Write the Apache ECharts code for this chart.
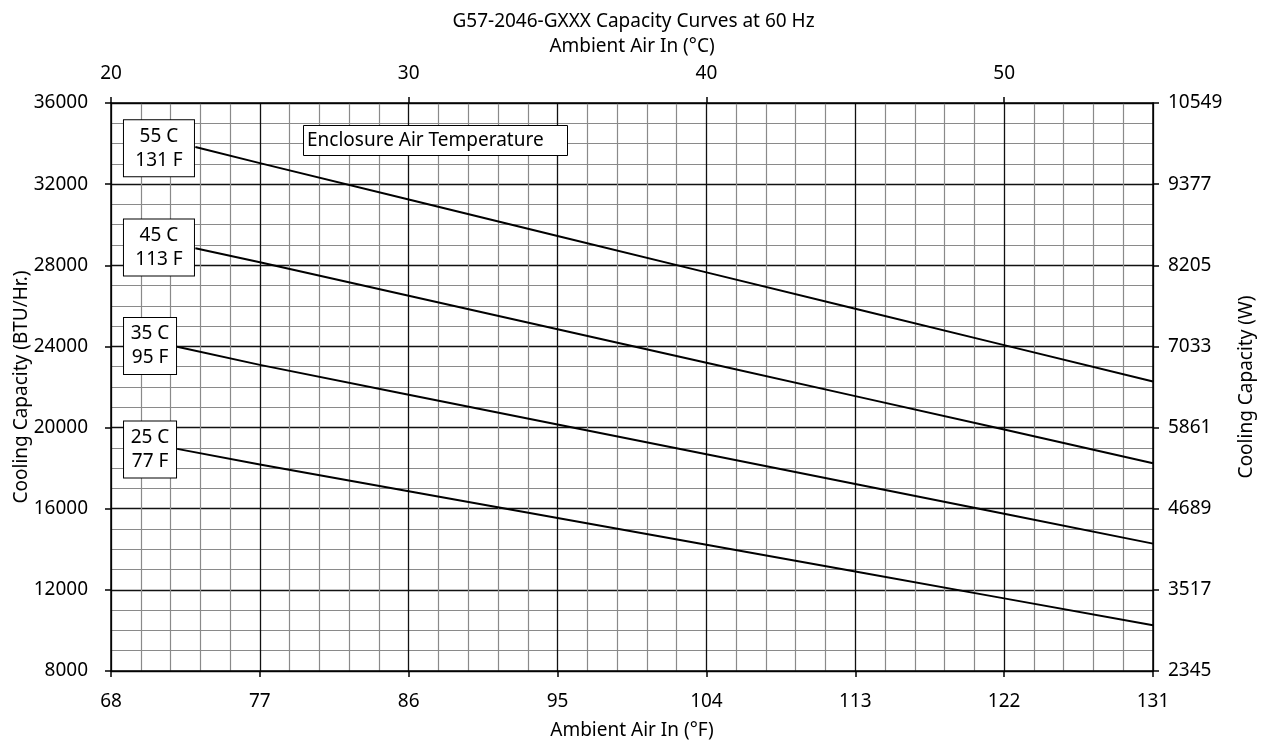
<!DOCTYPE html>
<html>
<head>
<meta charset="utf-8">
<script src="https://cdn.jsdelivr.net/npm/echarts@6/dist/echarts.min.js"></script>
<style>
html,body{margin:0;padding:0;background:#fff;}
#chart{width:1267px;height:740px;}
</style>
</head>
<body>
<div id="chart"></div>
<script>
// ---- data ----
const tempF = [77, 86, 95, 104, 113, 122, 131];
const cap55 = [33035, 31240, 29445, 27650, 25860, 24065, 22270];
const cap45 = [28150, 26500, 24850, 23200, 21550, 19900, 18240];
const cap35 = [23090, 21620, 20150, 18680, 17220, 15750, 14280];
const cap25 = [18180, 16860, 15540, 14220, 12900, 11580, 10250];
// where each curve emerges from its label box
const startF = [73.1, 73.1, 72.0, 72.0];
const startCap = [33830, 28840, 23980, 18950];
const curveNames = ['55 C / 131 F', '45 C / 113 F', '35 C / 95 F', '25 C / 77 F'];
const curveLabels = ['55 C\n131 F', '45 C\n113 F', '35 C\n95 F', '25 C\n77 F'];
const labelAnchorF = [70.9, 70.9, 70.36, 70.36];
const labelAnchorY = [33764, 28872, 24020, 18921];
const celsiusTicks = [20, 30, 40, 50];
const wattLabels = ['2345', '3517', '4689', '5861', '7033', '8205', '9377', '10549'];

const F0 = 68;
const FONT = 'Noto Sans';
const FS = 19;
const curves = [cap55, cap45, cap35, cap25];
const boxW = [72, 72, 54, 54];

const series = curves.map((vals, i) => ({
  name: curveNames[i],
  type: 'line',
  xAxisIndex: 0,
  yAxisIndex: 0,
  data: [[startF[i] - F0, startCap[i]]].concat(tempF.map((f, k) => [f - F0, vals[k]])),
  showSymbol: false,
  symbol: 'none',
  lineStyle: { color: '#000', width: 2 },
  silent: true,
  z: 3,
  markPoint: {
    symbol: 'rect',
    symbolSize: 0,
    silent: true,
    data: [{ coord: [labelAnchorF[i] - F0, labelAnchorY[i]] }],
    label: {
      show: true,
      position: 'inside',
      formatter: curveLabels[i],
      color: '#000',
      fontFamily: FONT,
      fontSize: FS,
      lineHeight: 24,
      width: boxW[i] - 2,
      align: 'center',
      verticalAlign: 'middle',
      padding: [4, 0, 4, 0],
      backgroundColor: '#fff',
      borderColor: '#000',
      borderWidth: 1
    }
  }
}));

const chart = echarts.init(document.getElementById('chart'), null, { renderer: 'canvas' });
chart.setOption({
  animation: false,
  backgroundColor: '#fff',
  textStyle: { fontFamily: FONT, color: '#000' },
  title: {
    text: 'G57-2046-GXXX Capacity Curves at 60 Hz',
    left: 'center',
    top: 7,
    textStyle: { fontFamily: FONT, fontSize: FS, fontWeight: 'normal', color: '#000' }
  },
  grid: { left: 111, right: 114, top: 103, bottom: 69, containLabel: false, outerBoundsMode: 'none' },
  xAxis: [
    {
      type: 'value',
      position: 'bottom',
      min: 0, max: 63, interval: 9,
      name: 'Ambient Air In (°F)',
      nameLocation: 'middle',
      nameGap: 50,
      nameMoveOverlap: false,
      nameTextStyle: { fontFamily: FONT, fontSize: FS, color: '#000' },
      axisLine: { show: true, onZero: false, lineStyle: { color: '#000', width: 1.5 } },
      axisTick: { show: true, inside: false, length: 6, lineStyle: { color: '#000', width: 1.5 } },
      axisLabel: { margin: 21, fontFamily: FONT, fontSize: FS, color: '#000', formatter: v => String(v + F0) },
      splitLine: { show: true, lineStyle: { color: '#111', width: 1.3 } },
      minorTick: { show: false, splitNumber: 5 },
      minorSplitLine: { show: true, lineStyle: { color: '#8a8a8a', width: 1.2 } }
    },
    {
      type: 'value',
      position: 'top',
      min: 20, max: 55,
      interval: 10,
      name: 'Ambient Air In (°C)',
      nameLocation: 'middle',
      nameGap: 47,
      nameMoveOverlap: false,
      nameTextStyle: { fontFamily: FONT, fontSize: FS, color: '#000' },
      axisLine: { show: true, onZero: false, lineStyle: { color: '#000', width: 1.5 } },
      axisTick: { show: true, inside: false, length: 6, customValues: celsiusTicks, lineStyle: { color: '#000', width: 1.5 } },
      axisLabel: { margin: 20, fontFamily: FONT, fontSize: FS, color: '#000', customValues: celsiusTicks },
      splitLine: { show: false }
    }
  ],
  yAxis: [
    {
      type: 'value',
      position: 'left',
      min: 8000, max: 36000, interval: 4000,
      name: 'Cooling Capacity (BTU/Hr.)',
      nameLocation: 'middle',
      nameGap: 80,
      nameMoveOverlap: false,
      nameTextStyle: { fontFamily: FONT, fontSize: FS, color: '#000' },
      axisLine: { show: true, onZero: false, lineStyle: { color: '#000', width: 1.5 } },
      axisTick: { show: true, inside: false, length: 6, lineStyle: { color: '#000', width: 1.5 } },
      axisLabel: { margin: 23, fontFamily: FONT, fontSize: FS, color: '#000', formatter: v => String(v) },
      splitLine: { show: true, lineStyle: { color: '#111', width: 1.3 } },
      minorTick: { show: false, splitNumber: 4 },
      minorSplitLine: { show: true, lineStyle: { color: '#8a8a8a', width: 1.2 } }
    },
    {
      type: 'value',
      position: 'right',
      min: 8000, max: 36000, interval: 4000,
      name: 'Cooling Capacity (W)',
      nameLocation: 'middle',
      nameGap: 84,
      nameMoveOverlap: false,
      nameTextStyle: { fontFamily: FONT, fontSize: FS, color: '#000' },
      axisLine: { show: true, onZero: false, lineStyle: { color: '#000', width: 1.5 } },
      axisTick: { show: true, inside: false, length: 6, lineStyle: { color: '#000', width: 1.5 } },
      axisLabel: {
        margin: 15, fontFamily: FONT, fontSize: FS, color: '#000',
        formatter: v => wattLabels[Math.round((v - 8000) / 4000)]
      },
      splitLine: { show: false }
    }
  ],
  graphic: [
    {
      type: 'rect',
      left: 303,
      top: 125,
      z: 100,
      zlevel: 1,
      shape: { x: 0, y: 0, width: 264, height: 30 },
      style: { fill: '#fff', stroke: '#000', lineWidth: 1 }
    },
    {
      type: 'text',
      left: 307,
      top: 131,
      z: 101,
      zlevel: 1,
      style: { text: 'Enclosure Air Temperature', fill: '#000', font: FS + 'px "' + FONT + '"' }
    }
  ],
  series: series
});
</script>
</body>
</html>
